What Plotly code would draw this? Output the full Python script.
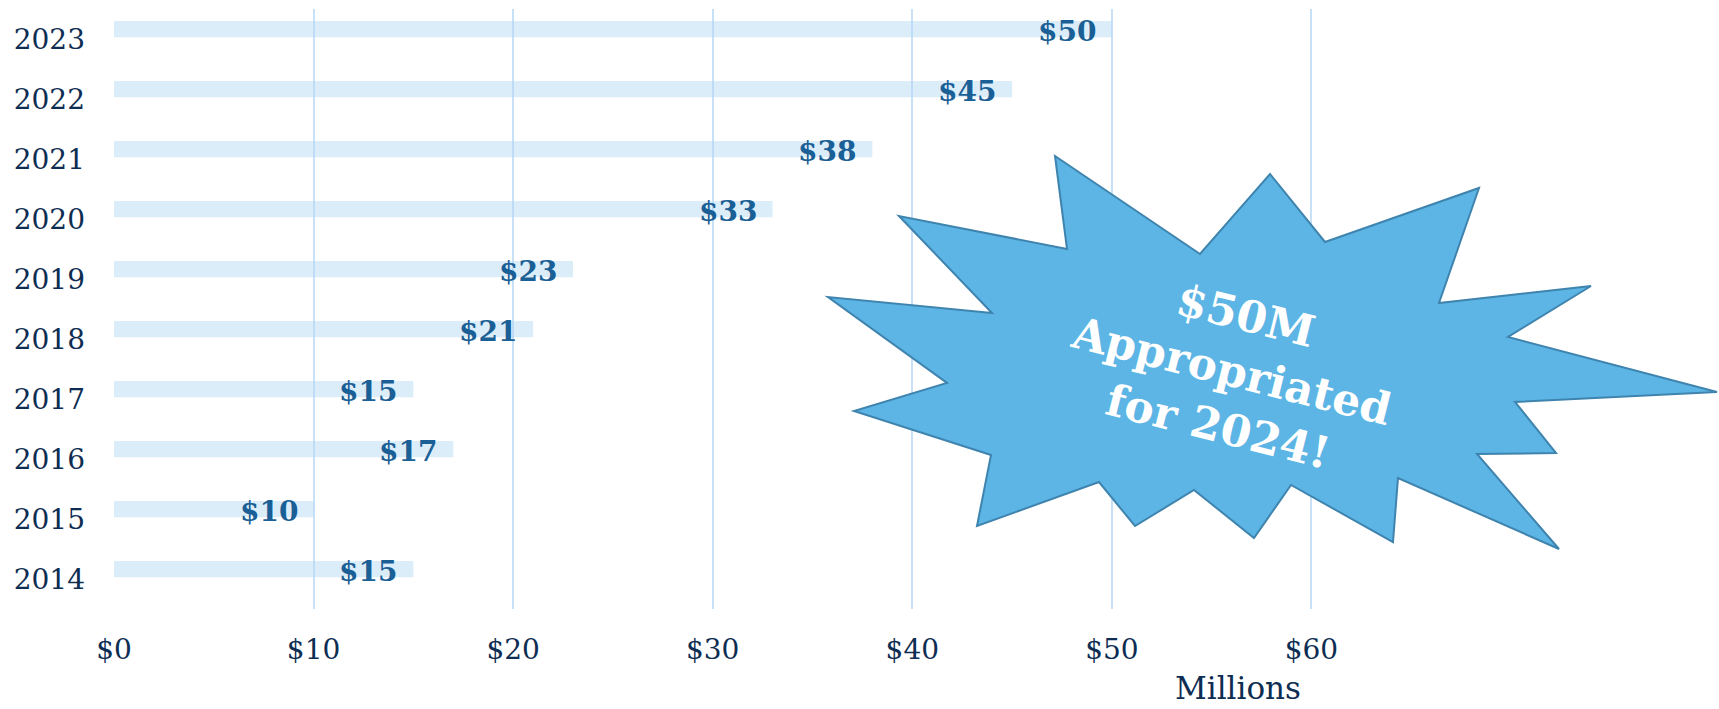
import plotly.graph_objects as go

# ---- data ----
years = ["2014", "2015", "2016", "2017", "2018", "2019", "2020", "2021", "2022", "2023"]
values = [15, 10, 17, 15, 21, 23, 33, 38, 45, 50]
tick_vals = [0, 10, 20, 30, 40, 50, 60]
tick_text = ["$0", "$10", "$20", "$30", "$40", "$50", "$60"]
axis_unit = "Millions"
callout_text = "$50M<br>Appropriated<br>for 2024!"

# starburst outline (pixel positions on the 1719x709 canvas)
burst_points = [
    (1055, 156), (1200, 254), (1270, 174), (1325, 242), (1479, 188), (1439, 303),
    (1591, 286), (1508, 337), (1717, 392), (1515, 402), (1556, 453), (1477, 454),
    (1559, 549), (1398, 478), (1393, 542), (1291, 485), (1254, 538), (1194, 490),
    (1135, 526), (1099, 482), (977, 526), (991, 455), (854, 411), (947, 383),
    (828, 297), (992, 313), (899, 216), (1067, 249),
]

# ---- layout geometry ----
W, H = 1719, 709
L, R, T, B = 114, 208, 9, 100
PW, PH = W - L - R, H - T - B

def px(x):
    return (x - L) / PW

def py(y):
    return (H - B - y) / PH

FONT = "Georgia, 'DejaVu Serif', serif"
NAVY = "#0e2d52"
LABEL_BLUE = "#1a5f95"

fig = go.Figure()
fig.add_trace(go.Bar(
    x=values, y=years, orientation="h",
    marker=dict(color="rgba(178,214,243,0.45)", line=dict(width=0)),
    width=0.27, offset=0.03,
    hoverinfo="skip",
))

annotations = []
for i, (yr, v) in enumerate(zip(years, values)):
    annotations.append(dict(
        x=v, y=i, xref="x", yref="y", text="$" + str(v), showarrow=False,
        xanchor="right", yanchor="middle", xshift=-14, yshift=8,
        font=dict(family=FONT, size=28, color=LABEL_BLUE, weight="bold"),
    ))

annotations.append(dict(
    x=px(1238), y=py(688), xref="paper", yref="paper", text=axis_unit,
    showarrow=False, xanchor="center", yanchor="middle",
    font=dict(family=FONT, size=31, color=NAVY),
))

annotations.append(dict(
    x=px(1231), y=py(370), xref="paper", yref="paper", text=callout_text,
    showarrow=False, xanchor="center", yanchor="middle", textangle=14, align="center",
    font=dict(family=FONT, size=44, color="white", weight="bold"),
))

path = "M " + " L ".join(f"{px(a):.5f},{py(b):.5f}" for a, b in burst_points) + " Z"
shapes = [dict(
    type="path", path=path, xref="paper", yref="paper", layer="above",
    fillcolor="#5cb5e4", line=dict(color="#3f84ae", width=2),
)]

fig.update_layout(
    width=W, height=H,
    margin=dict(l=L, r=R, t=T, b=B, pad=0),
    paper_bgcolor="white", plot_bgcolor="white",
    showlegend=False,
    font=dict(family=FONT, color=NAVY, size=28),
    xaxis=dict(
        range=[0, 70], tickvals=tick_vals, ticktext=tick_text,
        showgrid=True, gridcolor="#c8e1f7", gridwidth=2,
        zeroline=False, showline=False, ticks="",
        tickfont=dict(family=FONT, size=28, color=NAVY),
        ticklabelstandoff=21,
    ),
    yaxis=dict(
        type="category", categoryorder="array", categoryarray=years,
        range=[-0.5, 9.5], showgrid=False, zeroline=False, showline=False, ticks="",
        tickfont=dict(family=FONT, size=28, color=NAVY),
        ticklabelstandoff=28,
    ),
    annotations=annotations,
    shapes=shapes,
)

fig.write_html("out.html", config={"displayModeBar": False},
               post_script="document.body.style.margin='0';")
